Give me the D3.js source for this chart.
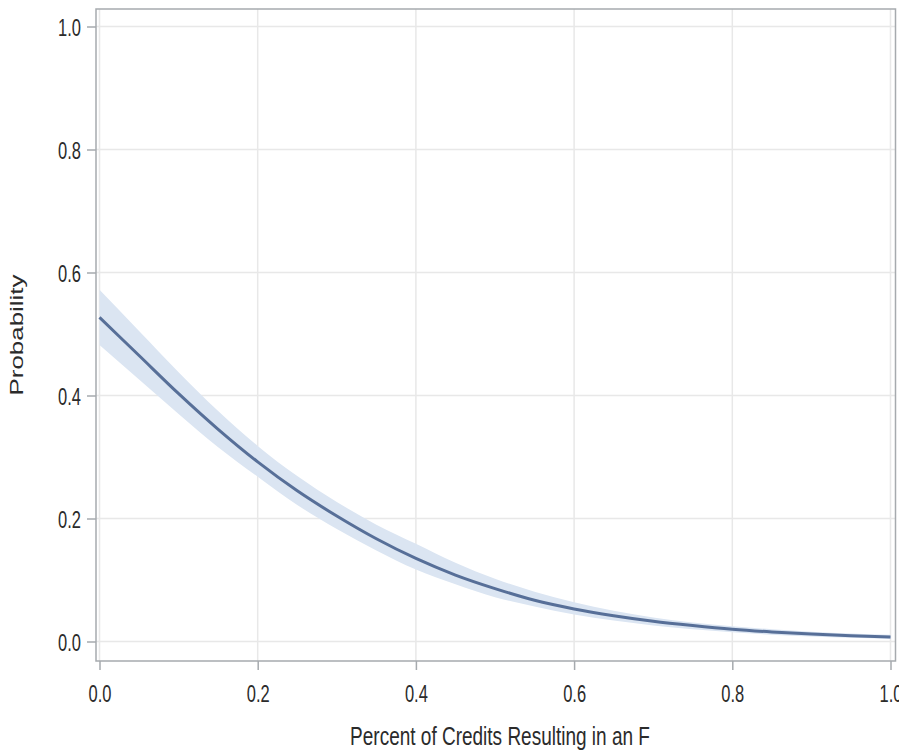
<!DOCTYPE html>
<html>
<head>
<meta charset="utf-8">
<script src="https://cdnjs.cloudflare.com/ajax/libs/d3/7.8.5/d3.min.js"></script>
<style>
  body { margin: 0; background: #fff; }
  text { font-family: "Liberation Sans", Arial, sans-serif; fill: #2b2b2b; }
</style>
</head>
<body>
<div id="chart"></div>
<script>
// data
var xValues = [0, 0.05, 0.1, 0.15, 0.2, 0.25, 0.3, 0.35, 0.4, 0.45, 0.5,
  0.55, 0.6, 0.65, 0.7, 0.75, 0.8, 0.85, 0.9, 0.95, 1.0];
var probability = [0.527, 0.465, 0.403, 0.345, 0.292, 0.245, 0.204, 0.167, 0.135, 0.108, 0.086,
  0.067, 0.053, 0.042, 0.033, 0.026, 0.020, 0.0156, 0.0122, 0.0095, 0.0075];
var lowerLimit = [0.482, 0.426, 0.370, 0.316, 0.268, 0.222, 0.183, 0.148, 0.117, 0.093, 0.072,
  0.057, 0.044, 0.034, 0.026, 0.020, 0.015, 0.011, 0.008, 0.006, 0.004];
var upperLimit = [0.572, 0.505, 0.438, 0.375, 0.318, 0.269, 0.227, 0.190, 0.159, 0.128, 0.102,
  0.081, 0.064, 0.050, 0.039, 0.031, 0.025, 0.020, 0.016, 0.013, 0.011];
var xTicks = [0, 0.2, 0.4, 0.6, 0.8, 1.0];
var yTicks = [0, 0.2, 0.4, 0.6, 0.8, 1.0];
var xTitle = "Percent of Credits Resulting in an F";
var yTitle = "Probability";

var svgWidth = 899;
var svgHeight = 753;

// frame of the plot area
var frame = { left: 96, top: 9, right: 895.5, bottom: 661 };

var svg = d3.select("#chart")
  .append("svg")
  .attr("width", svgWidth)
  .attr("height", svgHeight);

var xScale = d3.scaleLinear().domain([0, 1]).range([99.5, 890.5]);
var yScale = d3.scaleLinear().domain([0, 1]).range([641.5, 26.5]);

// the picture is stretched in height, so text gets stretched too
var stretch = 1.4;

// grid lines
svg.append("g")
  .selectAll("line.hgrid")
  .data(yTicks)
  .enter()
  .append("line")
  .attr("x1", frame.left)
  .attr("x2", frame.right)
  .attr("y1", d => yScale(d))
  .attr("y2", d => yScale(d))
  .attr("stroke", "#e8e8e8")
  .attr("stroke-width", 1.5);

svg.append("g")
  .selectAll("line.vgrid")
  .data(xTicks)
  .enter()
  .append("line")
  .attr("x1", d => xScale(d))
  .attr("x2", d => xScale(d))
  .attr("y1", frame.top)
  .attr("y2", frame.bottom)
  .attr("stroke", "#e8e8e8")
  .attr("stroke-width", 1.5);

var rows = xValues.map((x, i) => ({ x: x, p: probability[i], lo: lowerLimit[i], hi: upperLimit[i] }));

// confidence band
var band = d3.area()
  .x(d => xScale(d.x))
  .y0(d => yScale(d.lo))
  .y1(d => yScale(d.hi))
  .curve(d3.curveMonotoneX);

svg.append("path")
  .datum(rows)
  .attr("d", band)
  .attr("fill", "#dbe5f2");

// fitted curve
var line = d3.line()
  .x(d => xScale(d.x))
  .y(d => yScale(d.p))
  .curve(d3.curveMonotoneX);

svg.append("path")
  .datum(rows)
  .attr("d", line)
  .attr("fill", "none")
  .attr("stroke", "#576f98")
  .attr("stroke-width", 3);

// frame
svg.append("rect")
  .attr("x", frame.left)
  .attr("y", frame.top)
  .attr("width", frame.right - frame.left)
  .attr("height", frame.bottom - frame.top)
  .attr("fill", "none")
  .attr("stroke", "#a6aaae")
  .attr("stroke-width", 1.5);

// y axis
var leftAxis = d3.axisLeft(yScale)
  .tickValues(yTicks)
  .tickFormat(d3.format(".1f"))
  .tickSize(9)
  .tickSizeOuter(0);

var yAxis = svg.append("g")
  .attr("transform", `translate(${frame.left}, 0)`)
  .call(leftAxis);

yAxis.select(".domain").remove();
yAxis.selectAll(".tick line").attr("stroke", "#a6aaae").attr("stroke-width", 1.5);
yAxis.selectAll(".tick text")
  .attr("x", 0)
  .attr("dy", null)
  .attr("transform", `translate(-15, 8.5) scale(1, ${stretch})`)
  .style("font-size", "16.5px")
  .style("fill", "#2b2b2b");

// x axis
var bottomAxis = d3.axisBottom(xScale)
  .tickValues(xTicks)
  .tickFormat(d3.format(".1f"))
  .tickSize(9)
  .tickSizeOuter(0);

var xAxis = svg.append("g")
  .attr("transform", `translate(0, ${frame.bottom})`)
  .call(bottomAxis);

xAxis.select(".domain").remove();
xAxis.selectAll(".tick line").attr("stroke", "#a6aaae").attr("stroke-width", 1.5);
xAxis.selectAll(".tick text")
  .attr("y", 0)
  .attr("dy", null)
  .attr("transform", `translate(0, 41) scale(1, ${stretch})`)
  .style("font-size", "16.5px")
  .style("fill", "#2b2b2b");

// axis titles
svg.append("text")
  .attr("transform", `translate(500, 745) scale(1, ${stretch})`)
  .attr("text-anchor", "middle")
  .style("font-size", "19px")
  .text(xTitle);

svg.append("text")
  .attr("transform", `translate(23, 335) rotate(-90) scale(${stretch}, 1)`)
  .attr("text-anchor", "middle")
  .style("font-size", "18.5px")
  .text(yTitle);
</script>
</body>
</html>
